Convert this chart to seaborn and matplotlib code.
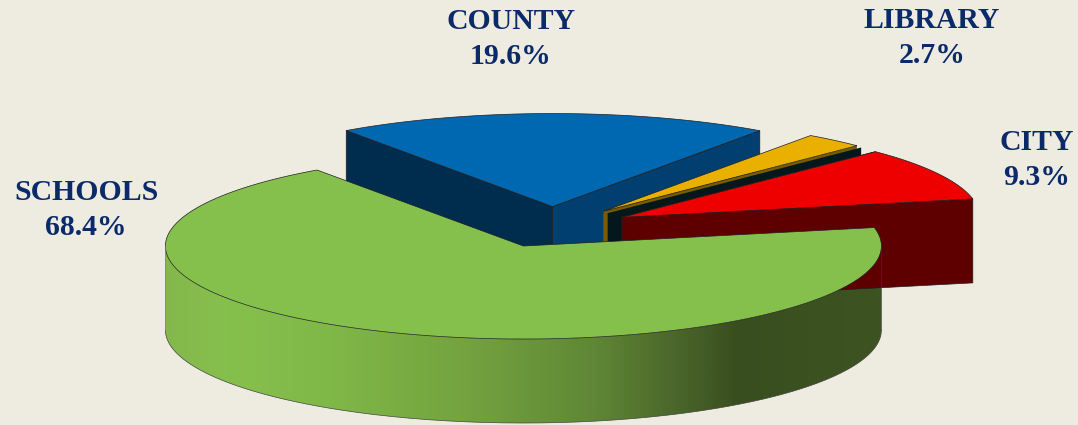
import numpy as np
import matplotlib
matplotlib.use("Agg")
import matplotlib.pyplot as plt
from matplotlib.colors import LinearSegmentedColormap
from matplotlib.patches import Polygon
import seaborn as sns

# Shares in drawing order, clockwise from the far left of the county slice
categories = ["COUNTY", "LIBRARY", "CITY", "SCHOOLS"]
shares = [19.6, 2.7, 9.3, 68.4]

top_colors = ["#0068b0", "#e9b000", "#ee0000", "#86c04c"]
start_face_colors = ["#002c4e", "#7a5c00", "#5f0000", "#3b5220"]
end_face_colors = ["#003f70", "#7a5c00", "#5f0000", "#3b5220"]

BG = "#eeebe1"
TEXT = "#0b2a6a"
W, H = 1078, 425
START = 125.2     # degrees, start of first slice
TILT = 93 / 358   # y squash of the ellipse
DEPTH = 84 / 358  # pie thickness
EXPLODE = 0.22
CX, CY = 552.5 / 358, 227 / 358


def rim(center, t):
    t = np.radians(t)
    return np.column_stack([center[0] + np.cos(t), center[1] + TILT * np.sin(t)])


def down(pts):
    return pts - np.array([0, DEPTH])


def add_poly(ax, pts, color, edge="#1e1e1e", lw=0.5):
    patch = Polygon(pts, closed=True, facecolor=color, edgecolor=edge, linewidth=lw)
    ax.add_patch(patch)
    return patch


def cut_face(center, t, shift=(0, 0)):
    a = np.array(center)
    b = rim(center, np.array([t]))[0]
    pts = np.array([a, b, b - [0, DEPTH], a - [0, DEPTH]])
    return pts + np.array(shift)


sns.set_theme(style="white", rc={"figure.facecolor": BG, "axes.facecolor": BG})

fig = plt.figure(figsize=(W / 100, H / 100), dpi=100)
ax = fig.add_axes([0, 0, 1, 1])

sweeps = np.array(shares) / sum(shares) * 360
t_end = START - np.cumsum(sweeps)
t_start = t_end + sweeps
mids = (t_start + t_end) / 2

for i, cat in enumerate(categories):
    t0, t1 = t_start[i], t_end[i]
    center = (np.cos(np.radians(mids[i])) * EXPLODE,
              np.sin(np.radians(mids[i])) * EXPLODE * TILT)

    if cat == "SCHOOLS":
        # outer wall, only the near half shows
        arc = rim(center, np.linspace(-180, 0, 240))
        wall = np.vstack([arc, down(arc)[::-1]])
        patch = add_poly(ax, wall, "none", edge="none", lw=0)
        stops = [(0.0, "#84b84c"), (0.09, "#86c04c"), (0.23, "#80b848"),
                 (0.44, "#72a03e"), (0.60, "#5f8736"), (0.74, "#465f28"),
                 (0.80, "#394e1e"), (1.0, "#3d5422")]
        cmap = LinearSegmentedColormap.from_list("wall", stops)
        img = ax.imshow(np.linspace(0, 1, 512)[None, :], cmap=cmap, aspect="auto",
                        extent=[center[0] - 1, center[0] + 1, center[1] - 1, center[1] + 0.1])
        img.set_clip_path(patch)
        ax.plot(*down(arc).T, color="#444444", lw=0.5)
        ax.plot(*wall[[0, -1]].T, color="#777777", lw=0.5)
        ax.plot(*wall[[239, 240]].T, color="#333333", lw=0.5)
    elif cat == "LIBRARY":
        add_poly(ax, cut_face(center, t1), start_face_colors[i], edge="none")
        add_poly(ax, cut_face(center, t1, shift=(0.012, -0.005)), "#04181c", edge="none")
    else:
        add_poly(ax, cut_face(center, t0), start_face_colors[i])
        add_poly(ax, cut_face(center, t1), end_face_colors[i])

    top = np.vstack([center, rim(center, np.linspace(t0, t1, 200))])
    add_poly(ax, top, top_colors[i])

# labels, placed by hand like the original
label_spots = {"COUNTY": (511, 39), "LIBRARY": (932, 38), "CITY": (1037, 160), "SCHOOLS": (86, 210)}
for cat, share in zip(categories, shares):
    x, y = label_spots[cat]
    ax.text(x / W, 1 - y / H, f"{cat}\n{share}%", transform=ax.transAxes,
            ha="center", va="center", color=TEXT, fontsize=21.4, fontweight="bold",
            family="Liberation Serif", linespacing=1.42)

ax.set_xlim(-CX, W / 358 - CX)
ax.set_ylim(-(H / 358 - CY), CY)
ax.axis("off")

fig.savefig("out.png", dpi=100, facecolor=BG)
